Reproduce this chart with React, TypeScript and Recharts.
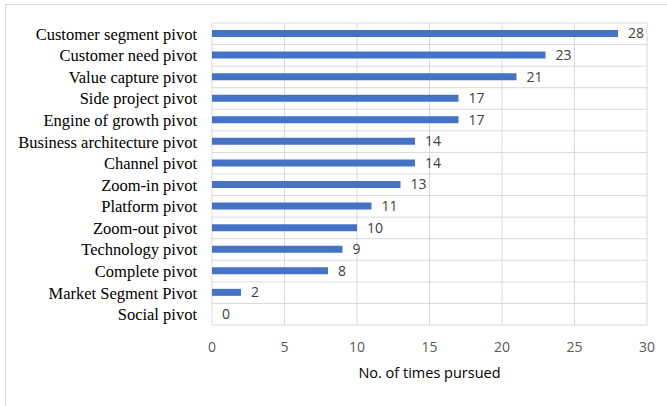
import React from 'react';
import { BarChart, Bar, XAxis, YAxis, CartesianGrid, LabelList, Label, Cell } from 'recharts';

const categories = [
  'Customer segment pivot',
  'Customer need pivot',
  'Value capture pivot',
  'Side project pivot',
  'Engine of growth pivot',
  'Business architecture pivot',
  'Channel pivot',
  'Zoom-in pivot',
  'Platform pivot',
  'Zoom-out pivot',
  'Technology pivot',
  'Complete pivot',
  'Market Segment Pivot',
  'Social pivot',
];
const timesPursued = [28, 23, 21, 17, 17, 14, 14, 13, 11, 10, 9, 8, 2, 0];
const xTicks = [0, 5, 10, 15, 20, 25, 30];

const data = categories.map((name, i) => ({ name, value: timesPursued[i] }));

const sans = '"Open Sans", "Liberation Sans", sans-serif';
const serif = '"Liberation Serif", "Times New Roman", serif';

export default function App() {
  return (
    <div style={{ position: 'absolute', left: 0, top: 0, width: 667, height: 406, background: '#fff' }}>
      <div
        style={{
          position: 'absolute',
          left: 5,
          top: 4,
          width: 700,
          height: 500,
          border: '1px solid #d9d9d9',
          boxSizing: 'border-box',
        }}
      />
      <BarChart
        width={667}
        height={406}
        data={data}
        layout="vertical"
        margin={{ top: 23, right: 20, left: 0, bottom: 21 }}
        barCategoryGap={0}
      >
        <CartesianGrid
          stroke="#d9d9d9"
          strokeWidth={1}
          horizontalCoordinatesGenerator={({ offset }: any) =>
            Array.from({ length: categories.length + 1 }, (_, i) => offset.top + (i * offset.height) / categories.length)
          }
        />
        <XAxis
          type="number"
          domain={[0, 30]}
          ticks={xTicks}
          axisLine={false}
          tickLine={false}
          tickMargin={11}
          height={60}
          tick={{ fill: '#595959', fontSize: 14, fontFamily: sans }}
        >
          <Label
            value="No. of times pursued"
            position="insideBottom"
            offset={7}
            style={{ fill: '#000', fontSize: 14.5, fontFamily: sans }}
          />
        </XAxis>
        <YAxis
          type="category"
          dataKey="name"
          width={212}
          axisLine={false}
          tickLine={false}
          tickMargin={9}
          interval={0}
          tick={{ fill: '#000', fontSize: 16.5, fontFamily: serif }}
        />
        <Bar dataKey="value" fill="#4472C4" barSize={7} minPointSize={0.01} isAnimationActive={false}>
          {data.map((d, i) => (
            <Cell key={i} fill={d.value === 0 ? 'transparent' : '#4472C4'} />
          ))}
          <LabelList
            dataKey="value"
            position="right"
            offset={10}
            style={{ fill: '#404040', fontSize: 14, fontFamily: sans }}
          />
        </Bar>
      </BarChart>
    </div>
  );
}
